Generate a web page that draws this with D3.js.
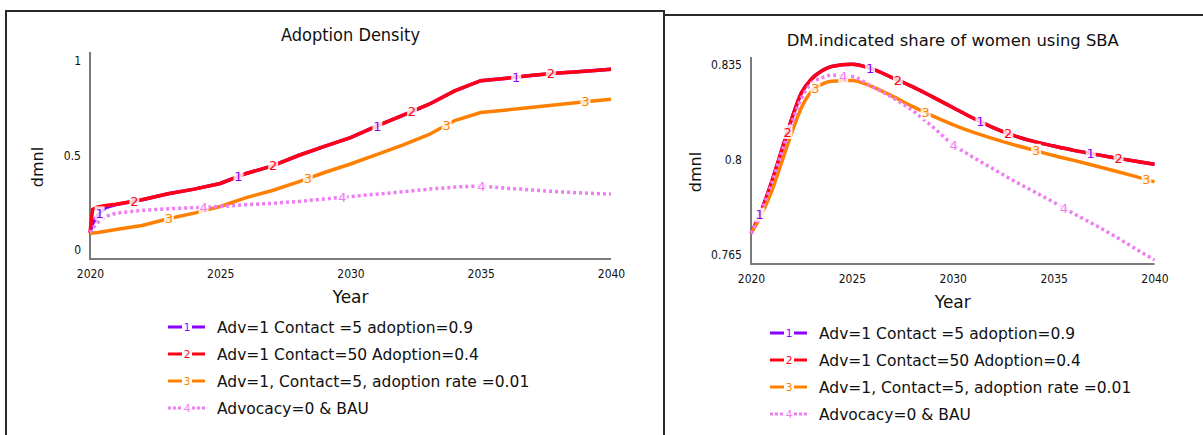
<!DOCTYPE html>
<html>
<head>
<meta charset="utf-8">
<script src="https://cdn.jsdelivr.net/npm/d3@7"></script>
<style>
  body { margin: 0; background: #fff; }
  svg { display: block; font-family: "DejaVu Sans", Verdana, sans-serif; }
  .tick text { font-family: "DejaVu Sans Condensed", "DejaVu Sans", sans-serif; font-stretch: condensed; font-size: 12px; fill: #111; }
</style>
</head>
<body>
<svg id="chart" width="1203" height="435"></svg>
<script>
// series names, shared by both panels
const seriesNames = [
    'Adv=1 Contact =5 adoption=0.9',
    'Adv=1 Contact=50 Adoption=0.4',
    'Adv=1, Contact=5, adoption rate =0.01',
    'Advocacy=0 & BAU'
];
const seriesColors = ['#8a00ff', '#ff0014', '#ff8000', '#f07cf4'];
const xTicks = [2020, 2025, 2030, 2035, 2040];

// Adoption Density
const densityYears = [2020, 2020.1, 2020.3, 2020.6, 2021, 2022, 2023, 2024, 2025, 2026, 2027, 2028, 2029, 2030, 2031, 2032, 2033, 2034, 2035, 2036, 2037, 2038, 2039, 2040];
const densityAdoption09 = [0.092, 0.14, 0.185, 0.225, 0.240, 0.266, 0.298, 0.322, 0.352, 0.405, 0.445, 0.500, 0.548, 0.595, 0.655, 0.712, 0.770, 0.842, 0.896, 0.909, 0.925, 0.936, 0.946, 0.956];
const densityContact50 = [0.092, 0.215, 0.228, 0.235, 0.242, 0.266, 0.298, 0.322, 0.352, 0.405, 0.445, 0.500, 0.548, 0.595, 0.655, 0.712, 0.770, 0.842, 0.896, 0.909, 0.925, 0.936, 0.946, 0.956];
const densityRate001 = [0.088, 0.090, 0.093, 0.099, 0.108, 0.130, 0.165, 0.195, 0.230, 0.277, 0.315, 0.360, 0.410, 0.455, 0.505, 0.555, 0.610, 0.685, 0.727, 0.741, 0.755, 0.770, 0.784, 0.797];
const densityBAU = [0.092, 0.115, 0.145, 0.178, 0.195, 0.210, 0.218, 0.224, 0.230, 0.240, 0.247, 0.257, 0.270, 0.283, 0.295, 0.308, 0.322, 0.333, 0.339, 0.327, 0.317, 0.308, 0.301, 0.296];
const densityYTicks = [0, 0.5, 1];

// DM.indicated share of women using SBA
const sbaYears = [2020, 2020.5, 2021, 2021.5, 2022, 2022.5, 2023, 2023.5, 2024, 2025, 2026, 2027, 2028, 2029, 2030, 2031, 2032, 2033, 2034, 2035, 2036, 2037, 2038, 2039, 2040];
const sbaAdoption09 = [0.7727, 0.7808, 0.7912, 0.8028, 0.8145, 0.8245, 0.8296, 0.8325, 0.8342, 0.8350, 0.8333, 0.8301, 0.8268, 0.8230, 0.8191, 0.8152, 0.8117, 0.8088, 0.8066, 0.8049, 0.8033, 0.8019, 0.8006, 0.7994, 0.7982];
const sbaContact50 = [0.7727, 0.7808, 0.7912, 0.8028, 0.8145, 0.8245, 0.8296, 0.8325, 0.8342, 0.8350, 0.8333, 0.8301, 0.8268, 0.8230, 0.8191, 0.8152, 0.8117, 0.8088, 0.8066, 0.8049, 0.8033, 0.8019, 0.8006, 0.7994, 0.7982];
const sbaRate001 = [0.7727, 0.7793, 0.7878, 0.7985, 0.8094, 0.8190, 0.8250, 0.8276, 0.8288, 0.8290, 0.8268, 0.8233, 0.8195, 0.8160, 0.8128, 0.8100, 0.8076, 0.8054, 0.8034, 0.8014, 0.7996, 0.7977, 0.7958, 0.7938, 0.7917];
const sbaBAU = [0.7727, 0.7805, 0.7905, 0.8020, 0.8130, 0.8225, 0.8280, 0.8300, 0.8310, 0.8305, 0.8268, 0.8228, 0.8180, 0.8120, 0.8055, 0.8008, 0.7965, 0.7922, 0.7882, 0.7842, 0.7800, 0.7760, 0.7718, 0.7673, 0.7629];
const sbaYTicks = [0.765, 0.8, 0.835];

const svg = d3.select('#chart');

// panel borders
svg.append('path')
    .attr('d', 'M6,435 V11 H664 V435 M664,15 H1203')
    .attr('fill', 'none')
    .attr('stroke', '#2a2a2a')
    .attr('stroke-width', 2);

// Function to draw one panel
function drawPanel(cfg) {
    const g = svg.append('g');
    const x = d3.scaleLinear().domain([2020, 2040]).range([cfg.left, cfg.right]);
    const y = d3.scaleLinear().domain(cfg.yDomain).range(cfg.yRange);

    // axes, labels only
    g.append('g')
        .attr('transform', `translate(${cfg.left},0)`)
        .call(d3.axisLeft(y).tickValues(cfg.yTicks).tickSize(0).tickPadding(9).tickFormat(d3.format('')))
        .call(a => a.select('.domain').remove());
    g.append('g')
        .attr('transform', `translate(0,${cfg.bottom})`)
        .call(d3.axisBottom(x).tickValues(xTicks).tickSize(0).tickPadding(10).tickFormat(d3.format('d')))
        .call(a => a.select('.domain').remove());

    g.selectAll('.tick text').attr('font-family', null).attr('font-size', null);

    // frame lines
    g.append('path')
        .attr('d', `M${cfg.left},${cfg.top} V${cfg.bottom} H${cfg.right}`)
        .attr('fill', 'none')
        .attr('stroke', '#7a7a7a')
        .attr('stroke-width', 2);

    const line = d3.line()
        .x(d => x(d[0]))
        .y(d => y(d[1]))
        .curve(cfg.curve);

    cfg.series.forEach((values, i) => {
        const pts = cfg.years.map((yr, k) => [yr, values[k]]);
        g.append('path')
            .datum(pts)
            .attr('fill', 'none')
            .attr('stroke', seriesColors[i])
            .attr('stroke-width', 3.5)
            .attr('stroke-dasharray', i === 3 ? '3,3' : null)
            .attr('d', line);
    });

    // numbered markers along the lines
    cfg.series.forEach((values, i) => {
        const at = d3.scaleLinear().domain(cfg.years).range(values);
        const marks = [];
        for (let t = cfg.labelStart + i * cfg.labelOffset; t <= 2040; t += cfg.labelStep) marks.push(t);
        const lg = g.selectAll(null).data(marks).enter().append('g')
            .attr('transform', t => `translate(${x(t)},${y(at(t))})`);
        lg.append('rect')
            .attr('x', -5).attr('y', -7).attr('width', 10).attr('height', 14)
            .attr('fill', '#fff').attr('opacity', 0.8);
        lg.append('text')
            .attr('text-anchor', 'middle')
            .attr('dy', '0.36em')
            .attr('font-size', 13)
            .attr('fill', seriesColors[i])
            .text(i + 1);
    });

    // titles
    g.append('text')
        .attr('x', (cfg.left + cfg.right) / 2).attr('y', cfg.titleY)
        .attr('text-anchor', 'middle').attr('dy', '0.36em')
        .attr('font-size', cfg.titleSize)
        .attr('font-family', cfg.titleFont)
        .attr('fill', '#111')
        .text(cfg.title);
    g.append('text')
        .attr('transform', `translate(${cfg.yLabelX},${cfg.yLabelY}) rotate(-90)`)
        .attr('text-anchor', 'middle').attr('dy', '0.36em')
        .attr('font-size', 16)
        .attr('fill', '#111')
        .text('dmnl');
    g.append('text')
        .attr('x', (cfg.left + cfg.right) / 2).attr('y', cfg.xLabelY)
        .attr('text-anchor', 'middle').attr('dy', '0.36em')
        .attr('font-size', 17)
        .attr('fill', '#111')
        .text('Year');

    // legend
    const leg = g.selectAll(null).data(seriesNames).enter().append('g')
        .attr('transform', (d, i) => `translate(${cfg.legendX},${cfg.legendY + i * 27})`);
    leg.append('path')
        .attr('d', 'M0,0 H14 M24,0 H37')
        .attr('stroke', (d, i) => seriesColors[i])
        .attr('stroke-width', 3)
        .attr('stroke-dasharray', (d, i) => i === 3 ? '3,2' : null);
    leg.append('text')
        .attr('x', 19).attr('dy', '0.36em')
        .attr('text-anchor', 'middle')
        .attr('font-size', 10.5)
        .attr('fill', (d, i) => seriesColors[i])
        .text((d, i) => i + 1);
    leg.append('text')
        .attr('x', 49).attr('dy', '0.36em')
        .attr('font-size', 15.5)
        .attr('fill', '#111')
        .text(d => d);
}

drawPanel({
    title: 'Adoption Density', titleY: 35, titleSize: 18,
    titleFont: '"DejaVu Sans Condensed", "DejaVu Sans", sans-serif',
    left: 90, right: 611, top: 52, bottom: 259,
    yDomain: [0, 1], yRange: [250, 61], yTicks: densityYTicks,
    years: densityYears,
    series: [densityAdoption09, densityContact50, densityRate001, densityBAU],
    curve: d3.curveLinear,
    labelStart: 2020.37, labelOffset: 1.33, labelStep: 5.33,
    yLabelX: 37, yLabelY: 167, xLabelY: 297,
    legendX: 168, legendY: 327
});

drawPanel({
    title: 'DM.indicated share of women using SBA', titleY: 40, titleSize: 16.4,
    titleFont: null,
    left: 751, right: 1154.5, top: 57, bottom: 264,
    yDomain: [0.765, 0.835], yRange: [254.3, 64.3], yTicks: sbaYTicks,
    years: sbaYears,
    series: [sbaAdoption09, sbaContact50, sbaRate001, sbaBAU],
    curve: d3.curveMonotoneX,
    labelStart: 2020.43, labelOffset: 1.38, labelStep: 5.47,
    yLabelX: 695, yLabelY: 172, xLabelY: 302,
    legendX: 770, legendY: 333
});
</script>
</body>
</html>
